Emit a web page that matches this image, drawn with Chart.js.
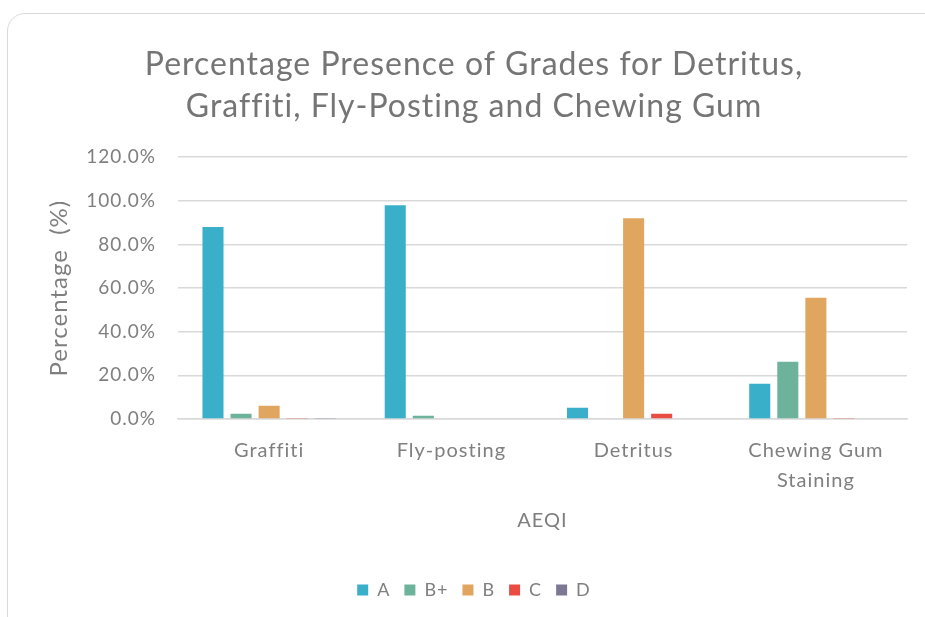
<!DOCTYPE html>
<html>
<head>
<meta charset="utf-8">
<script src="https://cdn.jsdelivr.net/npm/chart.js@4"></script>
<style>
  html, body { margin: 0; padding: 0; background: #fff; }
  #frame {
    position: absolute; left: 7px; top: 13px; width: 940px; height: 630px;
    border: 1px solid #d9d9d9; border-radius: 18px; box-sizing: border-box;
  }
  #wrap { position: absolute; left: 0; top: 0; width: 925px; height: 617px; }
</style>
</head>
<body>
<div id="frame"></div>
<div id="wrap"><canvas id="gradeChart"></canvas></div>
<script>
// 类别与数据
const categories = ['Graffiti', 'Fly-posting', 'Detritus', ['Chewing Gum', 'Staining']];
const gradeA = [88.0, 98.0, 5.2, 16.2];
const gradeBPlus = [2.4, 1.5, 0, 26.2];
const gradeB = [6.1, 0, 92.0, 55.6];
const gradeC = [0.5, 0, 2.4, 0.5];
const gradeD = [0.5, 0, 0, 0];
const yTicks = [0, 20, 40, 60, 80, 100, 120];

const textGray = '#7f7f7f';
const fontFamily = 'Lato, "Open Sans", sans-serif';

// 字间距（参考图文字较宽松）
const spacingPlugin = {
  id: 'letterSpacing',
  beforeUpdate(chart) { chart.ctx.letterSpacing = '1px'; },
  beforeLayout(chart) { chart.ctx.letterSpacing = '1px'; },
  beforeDraw(chart) { chart.ctx.letterSpacing = '1px'; }
};

function makeSet(label, data, color) {
  return {
    label: label,
    data: data,
    backgroundColor: color,
    borderWidth: 0,
    barPercentage: 0.75,
    categoryPercentage: 0.77
  };
}

const ctx = document.getElementById('gradeChart').getContext('2d');
window.gradeChart = new Chart(ctx, {
  type: 'bar',
  plugins: [spacingPlugin],
  data: {
    labels: categories,
    datasets: [
      makeSet('A', gradeA, '#3aafc9'),
      makeSet('B+', gradeBPlus, '#6db39b'),
      makeSet('B', gradeB, '#e0a55f'),
      makeSet('C', gradeC, '#e84c42'),
      makeSet('D', gradeD, '#7c7894')
    ]
  },
  options: {
    responsive: true,
    maintainAspectRatio: false,
    animation: false,
    layout: { padding: { left: 41, right: 18, top: 44, bottom: 8 } },
    plugins: {
      title: {
        display: true,
        text: ['Percentage Presence of Grades for Detritus,', 'Graffiti, Fly-Posting and Chewing Gum'],
        color: '#757575',
        font: { family: fontFamily, size: 32, weight: 'normal', lineHeight: 1.3 },
        padding: { top: 0, bottom: 30 }
      },
      legend: {
        position: 'bottom',
        labels: {
          color: textGray,
          font: { family: fontFamily, size: 18 },
          boxWidth: 11,
          boxHeight: 11,
          padding: 14
        }
      },
      tooltip: { enabled: false }
    },
    scales: {
      y: {
        min: 0,
        max: 120,
        afterBuildTicks: (axis) => { axis.ticks = yTicks.map(v => ({ value: v })); },
        afterFit: (axis) => { axis.width = 137; },
        ticks: {
          color: textGray,
          font: { family: fontFamily, size: 19 },
          padding: 22,
          callback: (v) => v.toFixed(1) + '%'
        },
        grid: { color: '#d9d9d9', lineWidth: 1.5, drawTicks: false },
        border: { display: false },
        title: {
          display: true,
          text: 'Percentage  (%)',
          color: textGray,
          font: { family: fontFamily, size: 24 },
          padding: { top: 4, bottom: 6 }
        }
      },
      x: {
        ticks: {
          color: textGray,
          font: { family: fontFamily, size: 20, lineHeight: 1.5 },
          padding: 17
        },
        grid: { display: false, drawTicks: false },
        border: { color: '#d9d9d9', width: 1.5 },
        title: {
          display: true,
          text: 'AEQI',
          color: textGray,
          font: { family: fontFamily, size: 20 },
          padding: { top: -4, bottom: 34 }
        }
      }
    }
  }
});
</script>
</body>
</html>
